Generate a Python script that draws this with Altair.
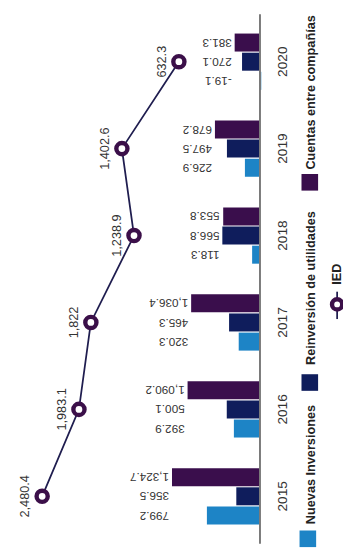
import altair as alt
import pandas as pd

# ---- data ----
years = ["2015", "2016", "2017", "2018", "2019", "2020"]
nuevas = [799.2, 392.9, 320.3, 118.3, 226.9, -19.1]
reinversion = [356.5, 500.1, 465.3, 566.8, 497.5, 270.1]
cuentas = [1324.7, 1090.2, 1036.4, 553.8, 678.2, 381.3]
ied = [2480.4, 1983.1, 1822.0, 1238.9, 1402.6, 632.3]

series_names = ["Nuevas Inversiones", "Reinversión de utilidades", "Cuentas entre compañías"]
series_colors = ["#1d84c6", "#0f1d5c", "#3a0e4c"]
series_values = [nuevas, reinversion, cuentas]


def fmt(v):
    s = f"{v:,.1f}"
    if s.endswith(".0"):
        s = s[:-2]
    return s


rows = []
for name, vals in zip(series_names, series_values):
    for y, v in zip(years, vals):
        rows.append({"year": y, "serie": name, "value": v, "label": fmt(v)})
bars_df = pd.DataFrame(rows)

ied_df = pd.DataFrame({"year": years, "ied": ied, "order": list(range(len(years))),
                       "label": [fmt(v) for v in ied]})

W, H = 343, 542
FONT = "Liberation Sans"

y_scale = alt.Scale(domain=years[::-1], paddingInner=0, paddingOuter=0.045)
y_enc = alt.Y("year:O", scale=y_scale, axis=None)
off_scale = alt.Scale(domain=series_names[::-1], paddingInner=0.06, paddingOuter=0.8)
off_enc = alt.YOffset("serie:N", scale=off_scale)
bar_x_scale = alt.Scale(domain=[-1250, 3794], reverse=True, nice=False, zero=False)
line_x_scale = alt.Scale(domain=[-1586, 2942], reverse=True, nice=False, zero=False)

bars = alt.Chart(bars_df).mark_bar().encode(
    x=alt.X("value:Q", scale=bar_x_scale, axis=None),
    y=y_enc,
    yOffset=off_enc,
    color=alt.Color("serie:N", scale=alt.Scale(domain=series_names, range=series_colors), legend=None),
)

# labels of a year group line up at the end of the longest bar of that group
bar_labels = alt.Chart(bars_df).transform_joinaggregate(
    pos="max(value)", groupby=["year"]
).mark_text(angle=180, align="left", baseline="middle", dx=3, fontSize=12,
            font=FONT, color="#333333").encode(
    x=alt.X("pos:Q", scale=bar_x_scale, axis=None),
    y=y_enc,
    yOffset=off_enc,
    text="label:N",
)

baseline = alt.Chart(pd.DataFrame({"z": [0]})).mark_rule(color="#7a7a7a", strokeWidth=2).encode(
    x=alt.X("z:Q", scale=bar_x_scale, axis=None),
    y=alt.value(0),
    y2=alt.value(H),
)

year_labels = alt.Chart(ied_df).mark_text(angle=270, align="center", baseline="middle",
                                           fontSize=14, font=FONT, color="#333333").encode(
    x=alt.value(282),
    y=y_enc,
    text="year:N",
)

bar_layer = alt.layer(bars, bar_labels, baseline, year_labels)

line = alt.Chart(ied_df).mark_line(color="#1f1d4f", strokeWidth=1.8).encode(
    x=alt.X("ied:Q", scale=line_x_scale, axis=None),
    y=y_enc,
    order="order:Q",
)
points = alt.Chart(ied_df).mark_point(shape="circle", filled=True, fill="white", stroke="#3b0f49",
                                      strokeWidth=4.5, size=130, opacity=1).encode(
    x=alt.X("ied:Q", scale=line_x_scale, axis=None),
    y=y_enc,
)
ied_labels = alt.Chart(ied_df).mark_text(angle=270, align="center", baseline="alphabetic", dy=-13,
                                          fontSize=13, font=FONT, color="#333333").encode(
    x=alt.X("ied:Q", scale=line_x_scale, axis=None),
    y=y_enc,
    text="label:N",
)
line_layer = alt.layer(line, points, ied_labels)

# ---- custom legend (rotated like the reference) ----
one = pd.DataFrame({"a": [0]})
legend_pos = [(307, 537, 522), (309, 377, 359), (309, 172, 159)]
legend_parts = []
for name, col, (sx, sy, ty) in zip(series_names, series_colors, legend_pos):
    legend_parts.append(
        alt.Chart(one).mark_square(size=289, color=col, opacity=1).encode(
            x=alt.value(sx), y=alt.value(sy))
    )
    legend_parts.append(
        alt.Chart(one).mark_text(angle=270, align="left", baseline="middle", fontSize=13,
                                 fontWeight="bold", font=FONT, color="#222222").encode(
            x=alt.value(310), y=alt.value(ty), text=alt.value(name))
    )
legend_parts.append(
    alt.Chart(one).mark_rule(color="#1f1d4f", strokeWidth=1.8).encode(
        x=alt.value(337), y=alt.value(284), y2=alt.value(312))
)
legend_parts.append(
    alt.Chart(one).mark_point(shape="circle", filled=True, fill="white", stroke="#3b0f49",
                              strokeWidth=4.5, size=110, opacity=1).encode(
        x=alt.value(337), y=alt.value(297))
)
legend_parts.append(
    alt.Chart(one).mark_text(angle=270, align="left", baseline="middle", fontSize=13,
                             fontWeight="bold", font=FONT, color="#222222").encode(
        x=alt.value(337), y=alt.value(277), text=alt.value("IED"))
)

chart = alt.layer(bar_layer, line_layer, *legend_parts).resolve_scale(
    x="independent"
).properties(
    width=W, height=H, autosize=alt.AutoSizeParams(type="none"), padding=0
).configure_view(stroke=None)

chart.save("out.html", embed_options={"renderer": "svg", "actions": False})
